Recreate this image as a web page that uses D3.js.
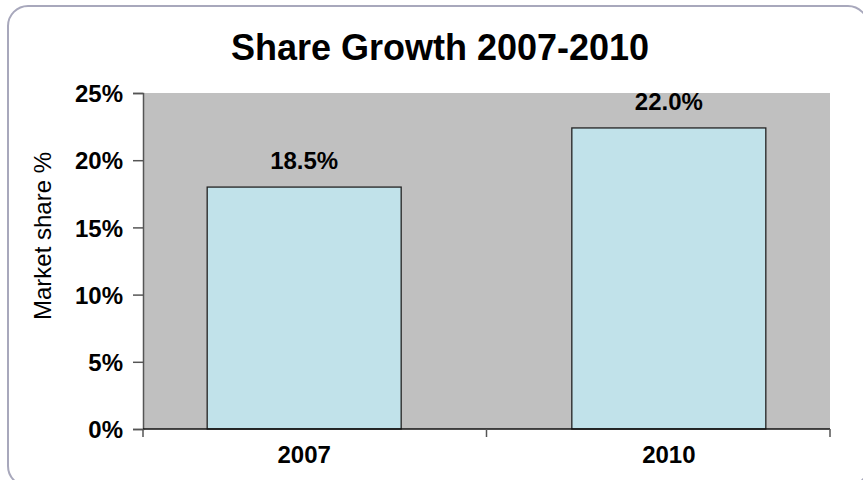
<!DOCTYPE html>
<html>
<head>
<meta charset="utf-8">
<script src="https://cdn.jsdelivr.net/npm/d3@7"></script>
<style>
  body { margin: 0; background: #fff; }
  text { font-family: "Liberation Sans", Arial, sans-serif; }
</style>
</head>
<body>
<div id="wrapper"></div>
<script>
const categories = ["2007", "2010"]
const barValues = [18.0, 22.4]
const barLabels = ["18.5%", "22.0%"]
const yTicks = [0, 5, 10, 15, 20, 25]

const width = 863
const height = 480
const plot = { left: 143, right: 830, top: 93, bottom: 429 }

const svg = d3.select("#wrapper")
  .append("svg")
  .attr("width", width)
  .attr("height", height)

// outer frame, runs off the right/bottom edge
svg.append("rect")
  .attr("x", 8).attr("y", 6)
  .attr("width", 860).attr("height", 480)
  .attr("rx", 20).attr("ry", 20)
  .attr("fill", "white")
  .attr("stroke", "#a8a8bc")
  .attr("stroke-width", 2)

svg.append("text")
  .attr("x", 440).attr("y", 60)
  .attr("text-anchor", "middle")
  .style("font-size", "36px")
  .style("font-weight", "bold")
  .text("Share Growth 2007-2010")

const x = d3.scaleBand()
  .domain(categories)
  .range([plot.left, plot.right])
  .paddingInner(0.468)
  .paddingOuter(0.176)

const y = d3.scaleLinear()
  .domain([0, 25])
  .range([plot.bottom, plot.top])

svg.append("rect")
  .attr("x", plot.left).attr("y", plot.top)
  .attr("width", plot.right - plot.left)
  .attr("height", plot.bottom - plot.top)
  .attr("fill", "#c0c0c0")

svg.selectAll(".bar").data(categories)
  .enter().append("rect")
  .attr("class", "bar")
  .attr("x", d => x(d))
  .attr("y", (d, i) => y(barValues[i]))
  .attr("width", x.bandwidth())
  .attr("height", (d, i) => y(0) - y(barValues[i]))
  .attr("fill", "#c1e2ea")
  .attr("stroke", "#222")
  .attr("stroke-width", 1.3)

svg.selectAll(".bar-label").data(categories)
  .enter().append("text")
  .attr("class", "bar-label")
  .attr("x", d => x(d) + x.bandwidth() / 2)
  .attr("y", (d, i) => y(barValues[i]) - 18)
  .attr("text-anchor", "middle")
  .style("font-size", "24px")
  .style("font-weight", "bold")
  .text((d, i) => barLabels[i])

// y axis
const yAxis = svg.append("g")
  .attr("transform", `translate(${plot.left},0)`)
  .call(d3.axisLeft(y).tickValues(yTicks).tickSize(10).tickPadding(10).tickFormat(d => d + "%"))
yAxis.select(".domain").attr("stroke", "#555").attr("stroke-width", 1.5)
yAxis.selectAll(".tick line").attr("stroke", "#555").attr("stroke-width", 1.5)
yAxis.selectAll(".tick text")
  .style("font-size", "24px")
  .style("font-weight", "bold")
  .style("font-family", "'Liberation Sans', Arial, sans-serif")
  .attr("fill", "#000")
  .attr("dy", "0.36em")

// x axis: ticks at category boundaries, labels under bars
const xAxisG = svg.append("g")
xAxisG.append("line")
  .attr("x1", plot.left).attr("x2", plot.right)
  .attr("y1", plot.bottom).attr("y2", plot.bottom)
  .attr("stroke", "#111").attr("stroke-width", 1.5)
const mid = (x(categories[0]) + x(categories[1]) + x.bandwidth()) / 2
xAxisG.selectAll(".xtick").data([plot.left, mid, plot.right])
  .enter().append("line")
  .attr("x1", d => d).attr("x2", d => d)
  .attr("y1", plot.bottom).attr("y2", plot.bottom + 8)
  .attr("stroke", "#555").attr("stroke-width", 1.5)
xAxisG.selectAll(".xlabel").data(categories)
  .enter().append("text")
  .attr("x", d => x(d) + x.bandwidth() / 2)
  .attr("y", 463)
  .attr("text-anchor", "middle")
  .style("font-size", "24px")
  .style("font-weight", "bold")
  .text(d => d)

svg.append("text")
  .attr("transform", "translate(51,236) rotate(-90)")
  .attr("text-anchor", "middle")
  .style("font-size", "24px")
  .text("Market share %")
</script>
</body>
</html>
